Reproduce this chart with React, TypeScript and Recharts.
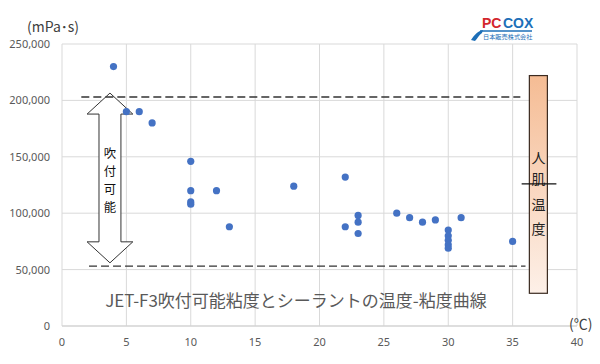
import {
  ScatterChart,
  Scatter,
  XAxis,
  YAxis,
  CartesianGrid,
  ReferenceLine,
  ReferenceArea,
} from 'recharts';

// 温度 (℃) と粘度 (mPa・s) の測定点
const temps = [4, 5, 6, 7, 10, 10, 10, 10, 12, 13, 18, 22, 22, 23, 23, 23, 26, 27, 28, 29, 30, 30, 30, 30, 30, 31, 35];
const viscosity = [
  230000, 190000, 190000, 180000, 146000, 120000, 110000, 108000, 120000, 88000, 124000, 132000, 88000, 98000,
  92000, 82000, 100000, 96000, 92000, 94000, 85000, 80000, 76000, 72000, 69000, 96000, 75000,
];

const xTicks = [0, 5, 10, 15, 20, 25, 30, 35, 40];
const yTicks = [0, 50000, 100000, 150000, 200000, 250000];

// 吹付可能範囲 (上限・下限)
const upperLimit = 203000;
const lowerLimit = 53000;
const upperRange = [1.5, 35.6];
const lowerRange = [2.1, 36.0];

// 矢印と人肌温度の帯
const arrowX = [1.95, 5.5];
const arrowY = [56000, 206500];
const skinX = [36.3, 37.7];
const skinY = [29000, 222000];
const skinMark = 126000;

const arrowText = ['吹', '付', '可', '能'];
const skinText = ['人', '肌', '温', '度'];

const points = temps.map((t, i) => ({ t, v: viscosity[i] }));

const tickStyle = { fill: '#595959', fontSize: 11, fontFamily: 'Noto Sans, sans-serif' };

function Arrow(props: any) {
  const { x, y, width, height } = props;
  const head = 21;
  const inset = width * 0.26;
  const cx = x + width / 2;
  const s1 = x + inset;
  const s2 = x + width - inset;
  const pts = [
    [cx, y],
    [x + width, y + head],
    [s2, y + head],
    [s2, y + height - head],
    [x + width, y + height - head],
    [cx, y + height],
    [x, y + height - head],
    [s1, y + height - head],
    [s1, y + head],
    [x, y + head],
  ]
    .map((p) => p.join(','))
    .join(' ');
  return (
    <g>
      <polygon points={pts} fill="#fff" stroke="#333" strokeWidth={1} />
      <text
        textAnchor="middle"
        dominantBaseline="central"
        fontSize={12.4}
        fill="#111"
        fontFamily="Noto Sans CJK JP, sans-serif"
      >
        {arrowText.map((c, i) => (
          <tspan key={c} x={cx} y={y + 60 + i * 18}>
            {c}
          </tspan>
        ))}
      </text>
    </g>
  );
}

function SkinBand(props: any) {
  const { x, y, width, height } = props;
  const cx = x + width / 2;
  const cy = y + height / 2;
  const offsets = [-27, -6, 20, 44];
  return (
    <g>
      <defs>
        <linearGradient id="skinGrad" x1="0" y1="0" x2="0" y2="1">
          <stop offset="0%" stopColor="#F5BC94" />
          <stop offset="100%" stopColor="#FDF0E8" />
        </linearGradient>
      </defs>
      <rect x={x} y={y} width={width} height={height} fill="url(#skinGrad)" stroke="#3b2a20" strokeWidth={1.2} />
      <text
        textAnchor="middle"
        dominantBaseline="central"
        fontSize={14}
        fill="#222"
        fontFamily="Noto Sans CJK JP, sans-serif"
      >
        {skinText.map((c, i) => (
          <tspan key={c} x={cx} y={cy + offsets[i]}>
            {c}
          </tspan>
        ))}
      </text>
    </g>
  );
}

function Logo() {
  return (
    <svg width={80} height={32} style={{ position: 'absolute', left: 466, top: 13 }}>
      <path d="M5 27 C 8 22, 12 18, 17 17 L 16 20 C 13 22, 11 26, 9 28 Z" fill="#1D6FB8" />
      <text x={16} y={15} fontSize={14} fontWeight={700} fill="#D3262C" fontFamily="Arial, Liberation Sans, sans-serif">
        PC
      </text>
      <text x={37} y={15} fontSize={14} fontWeight={700} fill="#1D6FB8" fontFamily="Arial Rounded, Liberation Sans, sans-serif">
        COX
      </text>
      <line x1={14} y1={18} x2={66} y2={18} stroke="#1D6FB8" strokeWidth={1.3} />
      <text x={17} y={26} fontSize={6.2} fill="#1D6FB8" fontFamily="Noto Sans CJK JP, sans-serif">
        日本販売株式会社
      </text>
    </svg>
  );
}

export default function App() {
  return (
    <div style={{ position: 'absolute', left: 0, top: 0, width: 600, height: 364, background: '#fff' }}>
      <ScatterChart width={600} height={364} margin={{ top: 44, right: 23, bottom: 0, left: 0 }}>
        <CartesianGrid stroke="#d9d9d9" />
        <XAxis
          type="number"
          dataKey="t"
          domain={[0, 40]}
          ticks={xTicks}
          interval={0}
          tick={tickStyle}
          tickLine={false}
          tickSize={0}
          tickMargin={12}
          axisLine={{ stroke: '#d0d0d0' }}
          height={38}
        />
        <YAxis
          type="number"
          dataKey="v"
          domain={[0, 250000]}
          ticks={yTicks}
          interval={0}
          tick={tickStyle}
          tickLine={false}
          axisLine={false}
          tickSize={0}
          tickMargin={12}
          width={62}
          tickFormatter={(v: number) => v.toLocaleString('en-US')}
        />
        <ReferenceLine
          segment={[
            { x: upperRange[0], y: upperLimit },
            { x: upperRange[1], y: upperLimit },
          ]}
          stroke="#333"
          strokeWidth={1.3}
          strokeDasharray="8 4"
        />
        <ReferenceLine
          segment={[
            { x: lowerRange[0], y: lowerLimit },
            { x: lowerRange[1], y: lowerLimit },
          ]}
          stroke="#333"
          strokeWidth={1.3}
          strokeDasharray="8 4"
        />
        <ReferenceArea x1={arrowX[0]} x2={arrowX[1]} y1={arrowY[0]} y2={arrowY[1]} shape={Arrow} />
        <ReferenceArea x1={skinX[0]} x2={skinX[1]} y1={skinY[0]} y2={skinY[1]} shape={SkinBand} />
        <ReferenceLine
          segment={[
            { x: 35.7, y: skinMark },
            { x: 38.4, y: skinMark },
          ]}
          stroke="#111"
          strokeWidth={1.2}
        />
        <Scatter
          data={points}
          isAnimationActive={false}
          shape={(p: any) => <circle cx={p.cx} cy={p.cy} r={3.6} fill="#4472C4" />}
        />
      </ScatterChart>
      <div
        style={{
          position: 'absolute',
          left: 27,
          top: 16,
          fontSize: 14,
          color: '#404040',
          fontFamily: 'Noto Sans CJK JP, sans-serif',
          lineHeight: '20px',
        }}
      >
        (mPa･s)
      </div>
      <div
        style={{
          position: 'absolute',
          left: 569,
          top: 313,
          fontSize: 14,
          color: '#404040',
          fontFamily: 'Noto Sans CJK JP, sans-serif',
          lineHeight: '20px',
        }}
      >
        (℃)
      </div>
      <div
        style={{
          position: 'absolute',
          left: 0,
          width: 592,
          top: 288,
          textAlign: 'center',
          fontSize: 17,
          color: '#595959',
          fontFamily: 'Noto Sans CJK JP, sans-serif',
          lineHeight: '24px',
        }}
      >
        JET-F3吹付可能粘度とシーラントの温度-粘度曲線
      </div>
      <Logo />
    </div>
  );
}
